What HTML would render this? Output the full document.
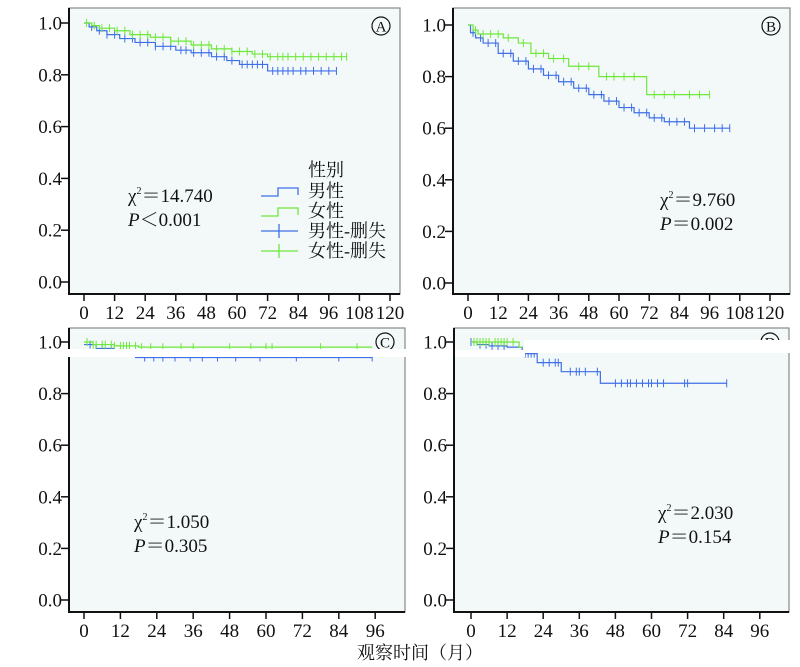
<!DOCTYPE html>
<html><head><meta charset="utf-8">
<style>
body{margin:0;background:#fff;}
svg{display:block;font-family:"Liberation Serif","Noto Serif CJK SC",serif;}
</style></head>
<body>
<svg id="c" width="800" height="667" viewBox="0 0 800 667" xmlns="http://www.w3.org/2000/svg"></svg>
<script>
// Panel A
const aMaleSteps=[[0,1],[2,0.985],[5,0.97],[9,0.955],[14,0.94],[20,0.925],[28,0.91],[36,0.895],[42,0.885],[50,0.87],[56,0.855],[61,0.84],[72,0.815]];
const aMaleEnd=99;
const aMaleCens=[3,6,9,12,16,19,22,25,28,31,34,38,40,43,46,49,52,55,58,62,64,66,68,70,74,76,78,80,82,85,87,90,93,96,99];
const aFemSteps=[[0,1],[3,0.99],[6,0.98],[12,0.97],[18,0.955],[26,0.945],[34,0.93],[42,0.915],[50,0.9],[58,0.89],[66,0.88],[72,0.87]];
const aFemEnd=103;
const aFemCens=[1,4,7,10,13,16,19,22,25,28,31,34,37,40,43,46,49,52,55,58,61,64,67,70,73,76,78,80,83,86,89,92,95,98,101,103];
// Panel B
const bMaleSteps=[[0,1],[1,0.97],[3,0.95],[6,0.93],[12,0.89],[18,0.86],[24,0.83],[30,0.805],[36,0.78],[42,0.755],[48,0.73],[54,0.705],[60,0.68],[66,0.66],[72,0.64],[78,0.625],[88,0.6]];
const bMaleEnd=104;
const bMaleCens=[2,5,8,11,14,17,20,23,26,29,32,35,38,41,44,47,50,53,56,59,62,65,68,71,74,77,80,83,86,90,94,98,101,104];
const bFemSteps=[[0,1],[2,0.98],[4,0.965],[14,0.95],[20,0.93],[25,0.89],[32,0.87],[40,0.84],[52,0.8],[71,0.73]];
const bFemEnd=96;
const bFemCens=[3,6,9,12,16,22,27,30,34,38,44,48,55,58,62,66,74,78,82,88,92,96];
// Panel C
const cMaleSteps=[[0,0.99],[4,0.975],[10,0.96],[17,0.94]];
const cMaleEnd=95;
const cMaleCens=[2,6,9,12,20,23,26,30,35,39,44,50,58,70,84,95];
const cFemSteps=[[0,1],[3,0.99],[10,0.985],[18,0.98]];
const cFemEnd=95;
const cFemCens=[1,3,4,6,7,9,10,12,13,14,15,17,19,22,26,32,36,48,55,60,62,78,90];
// Panel D
const dMaleSteps=[[0,1],[2,0.99],[6,0.985],[12,0.98],[17,0.955],[22,0.92],[30,0.885],[43,0.84]];
const dMaleEnd=85;
const dMaleCens=[0,3,5,7,9,11,18,19,20,21,24,26,28,29,33,35,36,38,42,48,50,52,53,55,57,59,60,62,64,71,72,85];
const dFemSteps=[[0,1],[16,0.98]];
const dFemEnd=17;
const dFemCens=[1,2,3,4,5,6,8,9,10,11,12,14];

const yTicks=[0,0.2,0.4,0.6,0.8,1.0];
const xTicksWide=[0,12,24,36,48,60,72,84,96,108,120];
const xTicksNarrow=[0,12,24,36,48,60,72,84,96];

const svg=document.getElementById('c');
const NS='http://www.w3.org/2000/svg';
function mk(tag,attrs,parent){const e=document.createElementNS(NS,tag);for(const k in attrs)e.setAttribute(k,attrs[k]);(parent||svg).appendChild(e);return e;}
const BLUE='#3f6fe8',GREEN='#6ee83a';

function panel(o){
  const g=mk('g',{});
  
  
  const bg=mk('rect',{x:o.L,y:o.T,width:o.R-o.L,height:o.B-o.T,fill:'#f3f9f9',stroke:'#888','stroke-width':1.2},g);
  
  
  const xs=t=>o.x0+t*o.xpu, ys=v=>o.y0-(v)*(o.y0-o.y1);
  const ax=mk('path',{d:`M${o.L},${o.T} V${o.B} H${o.R}`,stroke:'#111','stroke-width':2,fill:'none'},g);
  
  
  yTicks.forEach(v=>{
    mk('line',{x1:o.L-8,x2:o.L,y1:ys(v),y2:ys(v),stroke:'#111','stroke-width':1.5},g);
    const t=mk('text',{x:o.L-7,y:ys(v)+6.5,'text-anchor':'end','font-size':19,fill:'#111'},g);
    t.textContent=v.toFixed(1);
    
    
  });
  o.xt.forEach(v=>{
    mk('line',{x1:xs(v),x2:xs(v),y1:o.B,y2:o.B+7,stroke:'#111','stroke-width':1.5},g);
    const t=mk('text',{x:xs(v),y:o.B+25,'text-anchor':'middle','font-size':19,fill:'#111'},g);
    t.textContent=v;
    
    
  });
  function curve(steps,end,cens,col,name){
    let d=`M${xs(steps[0][0])},${ys(steps[0][1])}`;
    for(let i=1;i<steps.length;i++){d+=` H${xs(steps[i][0])} V${ys(steps[i][1])}`;}
    d+=` H${xs(end)}`;
    const p=mk('path',{d,stroke:col,'stroke-width':1.2,fill:'none'},g);
    
    
    cens.forEach(t=>{
      let s=steps[0][1];for(const st of steps){if(st[0]<=t)s=st[1];}
      const m=mk('line',{x1:xs(t),x2:xs(t),y1:ys(s)-4,y2:ys(s)+4,stroke:col,'stroke-width':1},g);
      
      
    });
  }
  curve(o.m[0],o.m[1],o.m[2],BLUE,'male');
  curve(o.f[0],o.f[1],o.f[2],GREEN,'female');
  const c=mk('circle',{cx:o.lx,cy:o.ly,r:9,fill:'none',stroke:'#111','stroke-width':1.2},g);
  
  const lt=mk('text',{x:o.lx,y:o.ly+5.5,'text-anchor':'middle','font-size':15,fill:'#111'},g);
  lt.textContent=o.id;
  if(o.white){o.white.forEach(w=>{const r=mk('rect',{x:w[0],y:w[1],width:w[2],height:w[3],fill:'#fff'},g);});}
  const s1=mk('text',{x:o.sx,y:o.sy,'font-size':19,fill:'#111'},g);
  s1.innerHTML='χ<tspan font-size="10" dy="-8">2</tspan><tspan dy="8">＝'+o.chi+'</tspan>';
  
  const s2=mk('text',{x:o.sx,y:o.sy+24,'font-size':19,fill:'#111'},g);
  s2.innerHTML='<tspan font-style="italic">P</tspan>'+o.p;
  
}
panel({id:'A',L:69,T:8,R:400,B:294,x0:84,xpu:30.6/12,y0:282,y1:23,xt:xTicksWide,m:[aMaleSteps,aMaleEnd,aMaleCens],f:[aFemSteps,aFemEnd,aFemCens],lx:381,ly:26,sx:128,sy:202,chi:'14.740',p:'＜0.001'});
panel({id:'B',L:453,T:8,R:790,B:294,x0:468,xpu:30.2/12,y0:283,y1:25,xt:xTicksWide,m:[bMaleSteps,bMaleEnd,bMaleCens],f:[bFemSteps,bFemEnd,bFemCens],lx:771,ly:26,sx:660,sy:206,chi:'9.760',p:'＝0.002'});
panel({id:'C',L:69,T:328,R:405,B:612,x0:84,xpu:36.4/12,y0:600,y1:342,xt:xTicksNarrow,m:[cMaleSteps,cMaleEnd,cMaleCens],f:[cFemSteps,cFemEnd,cFemCens],lx:385,ly:342,sx:134,sy:528,chi:'1.050',p:'＝0.305',white:[[60,349,350,8]]});
panel({id:'D',L:454,T:328,R:789,B:612,x0:471,xpu:36.1/12,y0:600,y1:342,xt:xTicksNarrow,m:[dMaleSteps,dMaleEnd,dMaleCens],f:[dFemSteps,dFemEnd,dFemCens],lx:770,ly:342,sx:658,sy:519,chi:'2.030',p:'＝0.154',white:[[524,340,266,13],[455,350,70,7]]});
const leg=mk('g',{});
const lt=mk('text',{x:308,y:176,'font-size':18,fill:'#111'},leg);lt.textContent='性别';
const items=[['男性',BLUE,false],['女性',GREEN,false],['男性-删失',BLUE,true],['女性-删失',GREEN,true]];
items.forEach((it,i)=>{
  const y=197+i*20;
  const e=mk('g',{},leg);
  
  
  if(it[2]){mk('line',{x1:261,x2:298,y1:y-6,y2:y-6,stroke:it[1],'stroke-width':1.3},e);mk('line',{x1:279,x2:279,y1:y-13,y2:y+1,stroke:it[1],'stroke-width':1.3},e);}
  else mk('path',{d:`M261,${y-1} H278 V${y-9} H298 V${y-2}`,stroke:it[1],'stroke-width':1.3,fill:'none'},e);
  const t=mk('text',{x:308,y:y,'font-size':18,fill:'#111'},e);t.textContent=it[0];
});
const xt=mk('text',{x:420,y:659,'text-anchor':'middle','font-size':18,fill:'#111'});
xt.textContent='观察时间（月）';

</script>
</body></html>
